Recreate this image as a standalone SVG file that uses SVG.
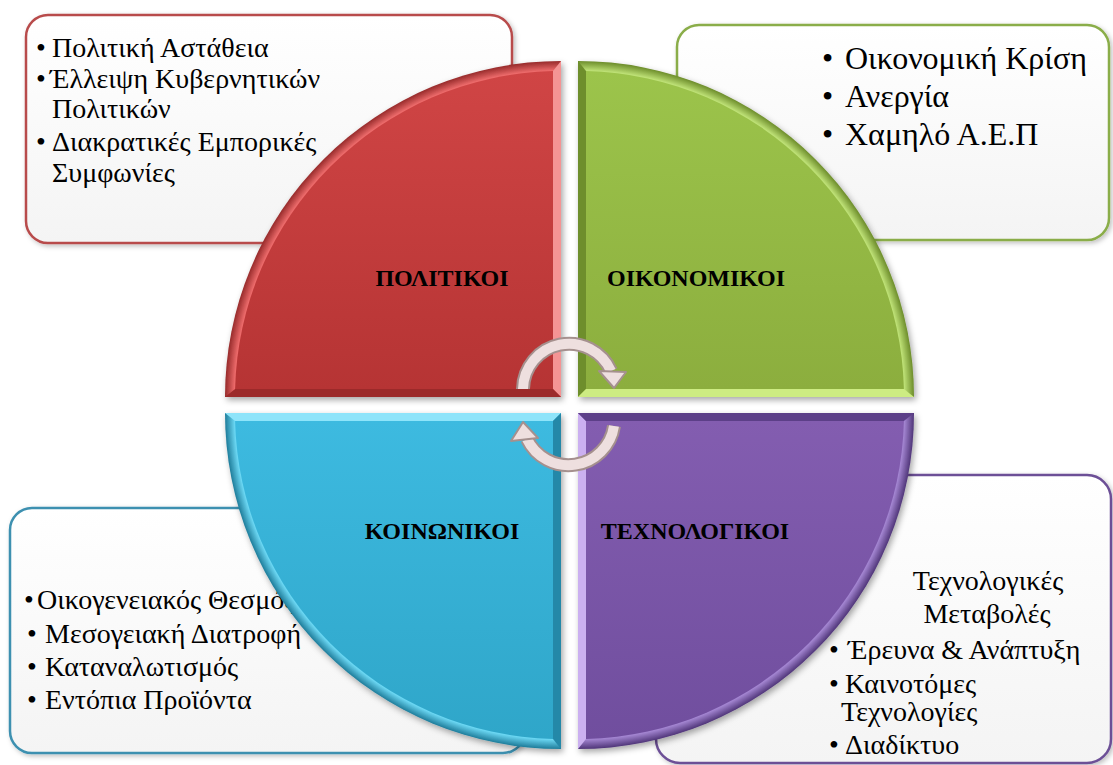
<svg xmlns="http://www.w3.org/2000/svg" width="1113" height="765" viewBox="0 0 1113 765">
<defs>
  <filter id="shq" x="-10%" y="-10%" width="130%" height="130%">
    <feDropShadow dx="2" dy="3" stdDeviation="3" flood-color="#000" flood-opacity="0.35"/>
  </filter>
  <filter id="shb" x="-10%" y="-10%" width="130%" height="130%">
    <feDropShadow dx="2" dy="2" stdDeviation="2.5" flood-color="#000" flood-opacity="0.25"/>
  </filter>
  <linearGradient id="boxfill" x1="0" y1="0" x2="0" y2="1">
    <stop offset="0" stop-color="#ffffff"/>
    <stop offset="1" stop-color="#f4f4f4"/>
  </linearGradient>
  <radialGradient id="bandR" gradientUnits="userSpaceOnUse" cx="561" cy="397" r="336">
    <stop offset="0.9" stop-color="#d24848"/><stop offset="0.972" stop-color="#ec6a6a"/><stop offset="1" stop-color="#962a2a"/>
  </radialGradient>
  <radialGradient id="bandG" gradientUnits="userSpaceOnUse" cx="578" cy="397" r="336">
    <stop offset="0.9" stop-color="#9cc24a"/><stop offset="0.972" stop-color="#bde075"/><stop offset="1" stop-color="#6c8c2a"/>
  </radialGradient>
  <radialGradient id="bandB" gradientUnits="userSpaceOnUse" cx="561" cy="413" r="336">
    <stop offset="0.9" stop-color="#36b2d6"/><stop offset="0.972" stop-color="#6ad6f2"/><stop offset="1" stop-color="#1e7c9a"/>
  </radialGradient>
  <radialGradient id="bandP" gradientUnits="userSpaceOnUse" cx="578" cy="413" r="336">
    <stop offset="0.9" stop-color="#7c58aa"/><stop offset="0.972" stop-color="#a284d0"/><stop offset="1" stop-color="#4f3578"/>
  </radialGradient>
  <linearGradient id="faceR" x1="0" y1="0" x2="0" y2="1">
    <stop offset="0" stop-color="#d04545"/><stop offset="1" stop-color="#b63434"/>
  </linearGradient>
  <linearGradient id="faceG" x1="0" y1="0" x2="0" y2="1">
    <stop offset="0" stop-color="#9cc44b"/><stop offset="1" stop-color="#8cae3e"/>
  </linearGradient>
  <linearGradient id="faceB" x1="0" y1="0" x2="0" y2="1">
    <stop offset="0" stop-color="#3dbae0"/><stop offset="1" stop-color="#2fa6c9"/>
  </linearGradient>
  <linearGradient id="faceP" x1="0" y1="0" x2="0" y2="1">
    <stop offset="0" stop-color="#835db0"/><stop offset="1" stop-color="#704e9e"/>
  </linearGradient>
</defs>
<style>
  .box { fill: url(#boxfill); stroke-width: 2.5; filter: url(#shb); }
  .txt { font-family: "Liberation Serif", serif; font-size: 28px; fill: #000; }
  .big { font-size: 32px; }
  .lbl { font-family: "Liberation Serif", serif; font-size: 24px; font-weight: bold; fill: #000; text-anchor: middle; }
  .mid { text-anchor: middle; }
  .arrO { fill: none; stroke: #a5908e; stroke-width: 14; stroke-linecap: butt; }
  .arrI { fill: none; stroke: #eedfdf; stroke-width: 10; stroke-linecap: butt; }
  .headO { fill: #eedfdf; stroke: #a5908e; stroke-width: 2; stroke-linejoin: round; }
</style>

<g id="node-politikoi">
  <rect class="box" x="26" y="15" width="486" height="228" rx="22" ry="22" stroke="#b84c4c"/>
  <text class="txt" x="36" y="57">•<tspan x="52">Πολιτική Αστάθεια</tspan></text>
  <text class="txt" x="36" y="88">•<tspan x="50">Έλλειψη Κυβερνητικών</tspan></text>
  <text class="txt" x="52" y="118">Πολιτικών</text>
  <text class="txt" x="36" y="151">•<tspan x="52">Διακρατικές Εμπορικές</tspan></text>
  <text class="txt" x="52" y="182">Συμφωνίες</text>
  <g filter="url(#shq)">
    <path d="M561,397 L225,397 A336,336 0 0 1 561,61 Z" fill="url(#bandR)"/>
  </g>
  <polygon points="553,71.1 561,61 561,397 553,389" fill="#f49494"/>
  <polygon points="235.1,389 553,389 561,397 225,397" fill="#9c2a2a"/>
  <path d="M553,389 L235.1,389 A326,326 0 0 1 553,71.1 Z" fill="url(#faceR)"/>
  <text class="lbl" x="442" y="286">ΠΟΛΙΤΙΚΟΙ</text>
</g>

<g id="node-oikonomikoi">
  <rect class="box" x="677" y="25" width="432" height="215" rx="22" ry="22" stroke="#8aad48"/>
  <text class="txt big" x="822" y="69">•<tspan x="845">Οικονομική Κρίση</tspan></text>
  <text class="txt big" x="822" y="107">•<tspan x="845">Ανεργία</tspan></text>
  <text class="txt big" x="822" y="145">•<tspan x="845">Χαμηλό Α.Ε.Π</tspan></text>
  <g filter="url(#shq)">
    <path d="M578,397 L578,61 A336,336 0 0 1 914,397 Z" fill="url(#bandG)"/>
  </g>
  <polygon points="578,61 586,71.1 586,389 578,397" fill="#6e8e2c"/>
  <polygon points="586,389 903.9,389 914,397 578,397" fill="#cdec82"/>
  <path d="M586,389 L586,71.1 A326,326 0 0 1 903.9,389 Z" fill="url(#faceG)"/>
  <text class="lbl" x="696" y="286">ΟΙΚΟΝΟΜΙΚΟΙ</text>
</g>

<g id="node-koinonikoi">
  <rect class="box" x="10" y="508" width="515" height="245" rx="22" ry="22" stroke="#3c90b0"/>
  <text class="txt" x="24" y="609">•<tspan x="37">Οικογενειακός Θεσμός</tspan></text>
  <text class="txt" x="27" y="643">•<tspan x="45">Μεσογειακή Διατροφή</tspan></text>
  <text class="txt" x="27" y="676">•<tspan x="45">Καταναλωτισμός</tspan></text>
  <text class="txt" x="27" y="709">•<tspan x="45">Εντόπια Προϊόντα</tspan></text>
  <g filter="url(#shq)">
    <path d="M561,413 L561,749 A336,336 0 0 1 225,413 Z" fill="url(#bandB)"/>
  </g>
  <polygon points="225,413 561,413 553,421 235.1,421" fill="#8ee4fa"/>
  <polygon points="561,413 561,749 553,738.9 553,421" fill="#2488a8"/>
  <path d="M553,421 L553,738.9 A326,326 0 0 1 235.1,421 Z" fill="url(#faceB)"/>
  <text class="lbl" x="442" y="539">ΚΟΙΝΩΝΙΚΟΙ</text>
</g>

<g id="node-technologikoi">
  <rect class="box" x="656" y="475" width="455" height="288" rx="24" ry="24" stroke="#6c4f96"/>
  <text class="txt mid" x="988" y="590">Τεχνολογικές</text>
  <text class="txt mid" x="987" y="623">Μεταβολές</text>
  <text class="txt" x="829" y="659">•<tspan x="848">Έρευνα &amp; Ανάπτυξη</tspan></text>
  <text class="txt" x="829" y="693">•<tspan x="845">Καινοτόμες</tspan></text>
  <text class="txt" x="841" y="721">Τεχνολογίες</text>
  <text class="txt" x="829" y="754">•<tspan x="845">Διαδίκτυο</tspan></text>
  <g filter="url(#shq)">
    <path d="M578,413 L914,413 A336,336 0 0 1 578,749 Z" fill="url(#bandP)"/>
  </g>
  <polygon points="578,413 586,421 586,738.9 578,749" fill="#cbb0f0"/>
  <polygon points="578,413 914,413 903.9,421 586,421" fill="#5c3f88"/>
  <path d="M586,421 L903.9,421 A326,326 0 0 1 586,738.9 Z" fill="url(#faceP)"/>
  <text class="lbl" x="695" y="539">ΤΕΧΝΟΛΟΓΙΚΟΙ</text>
</g>

<g id="connectors">
  <path class="arrO" d="M523,389 A46,46 0 0 1 611,371"/>
  <path class="arrI" d="M523,389 A46,46 0 0 1 611,371"/>
  <polygon class="headO" points="599,371 626,372 614,388"/>
  <path class="arrO" d="M614,426 A46,46 0 0 1 527,439"/>
  <path class="arrI" d="M614,426 A46,46 0 0 1 527,439"/>
  <polygon class="headO" points="511,441 538,438 523,422"/>
</g>
</svg>
